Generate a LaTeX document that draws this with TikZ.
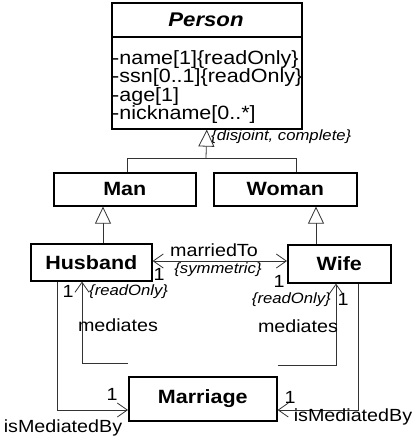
\documentclass[tikz,border=0pt]{standalone}
\usepackage{fontspec}
\setmainfont{Liberation Sans}[FakeStretch=1.12]
\usetikzlibrary{arrows.meta}
\begin{document}
\begin{tikzpicture}[x=1pt,y=-1pt,
  >={Straight Barb[length=10pt,width=14pt,line width=0.8pt]},
  box/.style={draw,line width=1.6pt,inner sep=0pt,anchor=north west},
  bt/.style={inner sep=0pt,font=\fontsize{19.2}{19.2}\selectfont\bfseries},
  conn/.style={line width=0.8pt,draw=black!80},
  gen/.style={-{Triangle[fill=white,length=17pt,width=16pt,line width=0.8pt]}},
  attr/.style={anchor=west,inner sep=0pt,font=\fontsize{19.2}{19.2}\selectfont},
  lbl/.style={inner sep=0pt,font=\fontsize{17.6}{17.6}\selectfont},
  cons/.style={inner sep=0pt,font=\fontsize{14.9}{14.9}\selectfont\itshape}]
\useasboundingbox (0,0) rectangle (413,440);
% Person
\node[box,minimum width=190pt,minimum height=126pt] (person) at (111,2) {};
\draw[line width=1.6pt] (111,37) -- (301,37);
\node[bt,font=\fontsize{19.8}{19.8}\selectfont\bfseries\itshape] (ptitle) at (206,19.5) {Person};
\node[attr] (a1) at (112,59.5) {-name[1]\{readOnly\}};
\node[attr] (a2) at (112,78) {-ssn[0..1]\{readOnly\}};
\node[attr] (a3) at (112,96.5) {-age[1]};
\node[attr] (a4) at (112,114.5) {-nickname[0..*]};
% Man, Woman
\node[box,minimum width=142pt,minimum height=33pt] (man) at (53,172) {};
\node[bt] (mant) at (man.center) {Man};
\node[box,minimum width=143pt,minimum height=33pt] (woman) at (213,172) {};
\node[bt] (womant) at (woman.center) {Woman};
% generalization set
\coordinate (gj) at (206,158);
\coordinate (gl) at (127,158);
\coordinate (gr) at (296,158);
\draw[conn] (man.north -| gl) -- (gl) -- (gr) -- (woman.north -| gr);
\draw[conn,gen] (gj) -- (person.south);
\node[cons,anchor=west] (gs) at (211,137) {\{disjoint, complete\}};
% Husband, Wife
\node[box,minimum width=121pt,minimum height=37pt] (husband) at (30,243) {};
\node[bt] (husbandt) at (husband.center) {Husband};
\node[box,minimum width=103pt,minimum height=38pt] (wife) at (287,244) {};
\node[bt] (wifet) at (wife.center) {Wife};
\coordinate (hx) at (103,0);
\coordinate (wx) at (316,0);
\draw[conn,gen] (husband.north -| hx) -- (man.south -| hx);
\draw[conn,gen] (wife.north -| wx) -- (woman.south -| wx);
% marriedTo
\coordinate (my) at (0,261);
\draw[conn,<->] (husband.east |- my) -- (wife.west |- my);
\node[lbl] (mt) at (214,250) {marriedTo};
\node[cons] (sym) at (218,270) {\{symmetric\}};
\node[lbl] (m1) at (159,274) {1};
\node[lbl] (m2) at (279,281) {1};
% Marriage
\node[box,minimum width=148pt,minimum height=44pt] (marriage) at (128,376) {};
\node[bt] (marriaget) at (marriage.center) {Marriage};
% Husband side
\coordinate (h1) at (82,363);
\coordinate (h2) at (57,410);
\draw[conn,->] (marriage.west |- h1) -- (h1) -- (husband.south -| h1);
\draw[conn,->] (husband.south -| h2) -- (h2) -- (marriage.west |- h2);
\node[lbl] (hl1) at (68,291) {1};
\node[cons,anchor=west] (hro) at (89,292) {\{readOnly\}};
\node[lbl] (hmed) at (118,325) {mediates};
\node[lbl] (hl2) at (112,394) {1};
\node[lbl] (hmb) at (63,428) {isMediatedBy};
% Wife side
\coordinate (w1) at (336,365);
\coordinate (w2) at (358,410);
\draw[conn,->] (marriage.east |- w1) -- (w1) -- (wife.south -| w1);
\draw[conn,->] (wife.south -| w2) -- (w2) -- (marriage.east |- w2);
\node[cons,anchor=east] (wro) at (331,300) {\{readOnly\}};
\node[lbl] (wl1) at (343,299) {1};
\node[lbl] (wmed) at (298,326) {mediates};
\node[lbl] (wl2) at (290,397) {1};
\node[lbl] (wmb) at (353,417) {isMediatedBy};
\end{tikzpicture}
\end{document}
